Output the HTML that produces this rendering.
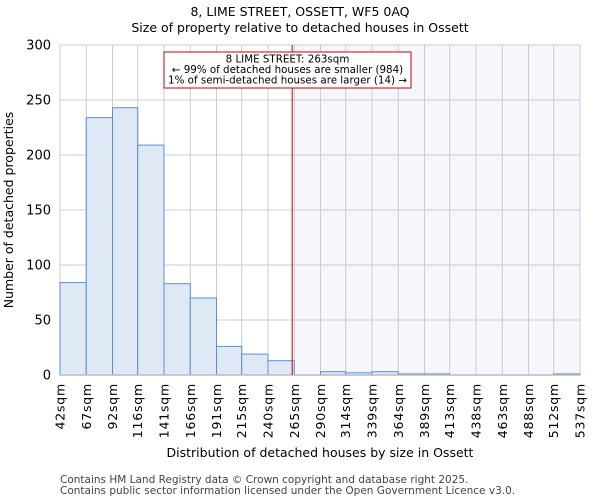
<!DOCTYPE html>
<html><head><meta charset="utf-8"><style>
body{margin:0;background:#fff;font-family:"DejaVu Sans","Liberation Sans",sans-serif;}
</style></head><body>
<svg width="600" height="500" xmlns="http://www.w3.org/2000/svg" font-family="DejaVu Sans, Liberation Sans, sans-serif">
<text x="300" y="16" text-anchor="middle" font-size="12.5">8, LIME STREET, OSSETT, WF5 0AQ</text>
<text x="300" y="32" text-anchor="middle" font-size="12.5">Size of property relative to detached houses in Ossett</text>
<g id="plot"></g>
<text transform="translate(13,210) rotate(-90)" text-anchor="middle" font-size="12.5">Number of detached properties</text>
<text x="320" y="457" text-anchor="middle" font-size="12.5">Distribution of detached houses by size in Ossett</text>
<text x="60" y="483" font-size="10.5" fill="#444">Contains HM Land Registry data © Crown copyright and database right 2025.</text>
<text x="60" y="494" font-size="10.5" fill="#444">Contains public sector information licensed under the Open Government Licence v3.0.</text>
</svg>
<script>
const binEdges=[42,67,92,116,141,166,191,215,240,265,290,314,339,364,389,413,438,463,488,512,537];
const counts=[84,234,243,209,83,70,26,19,13,0,3,2,3,1,1,0,0,0,0,1];
const yTicks=[0,50,100,150,200,250,300];
const propertySize=263;
const NS="http://www.w3.org/2000/svg";
const L=60,R=580,T=45,B=375,xmin=42,xmax=537,ymax=300;
const x=v=>L+(v-xmin)/(xmax-xmin)*(R-L);
const y=v=>B-v/ymax*(B-T);
const g=document.getElementById('plot');
function mk(t,a){const e=document.createElementNS(NS,t);for(const k in a)e.setAttribute(k,a[k]);g.appendChild(e);return e;}
const px=x(propertySize);
let e=mk('rect',{x:px,y:T,width:R-px,height:B-T,fill:'#eef1fb',opacity:0.6});


binEdges.forEach((v,i)=>{const l=mk('line',{x1:x(v),x2:x(v),y1:T,y2:B,stroke:'#ccc','stroke-width':1});


const t=mk('text',{transform:`translate(${x(v)+4.5},383) rotate(-90)`,'text-anchor':'end','font-size':12.5,'letter-spacing':0.8});t.textContent=v+'sqm';

});
yTicks.forEach(v=>{const l=mk('line',{x1:L,x2:R,y1:y(v),y2:y(v),stroke:'#ccc','stroke-width':1});


const t=mk('text',{x:L-9,y:y(v)+4.5,'text-anchor':'end','font-size':13});t.textContent=v;

});
counts.forEach((c,i)=>{if(c<=0)return;const r=mk('rect',{x:x(binEdges[i]),y:y(c),width:x(binEdges[i+1])-x(binEdges[i]),height:B-y(c),fill:'#dfe8f5',stroke:'#5b8fd6','stroke-width':1});

});
const ax=mk('line',{x1:L,x2:R,y1:B,y2:B,stroke:'#bbb','stroke-width':1.5});


const ml=mk('line',{x1:px,x2:px,y1:T,y2:B,stroke:'#cc0000','stroke-width':1});


const box=mk('rect',{x:164,y:52,width:247,height:36,fill:'#fff',stroke:'#cc0000','stroke-width':1});


['8 LIME STREET: 263sqm','← 99% of detached houses are smaller (984)','1% of semi-detached houses are larger (14) →'].forEach((s,i)=>{const t=mk('text',{x:287.5,y:62.5+i*10.5,'text-anchor':'middle','font-size':10.3});t.textContent=s;

});
</script>
</body></html>
